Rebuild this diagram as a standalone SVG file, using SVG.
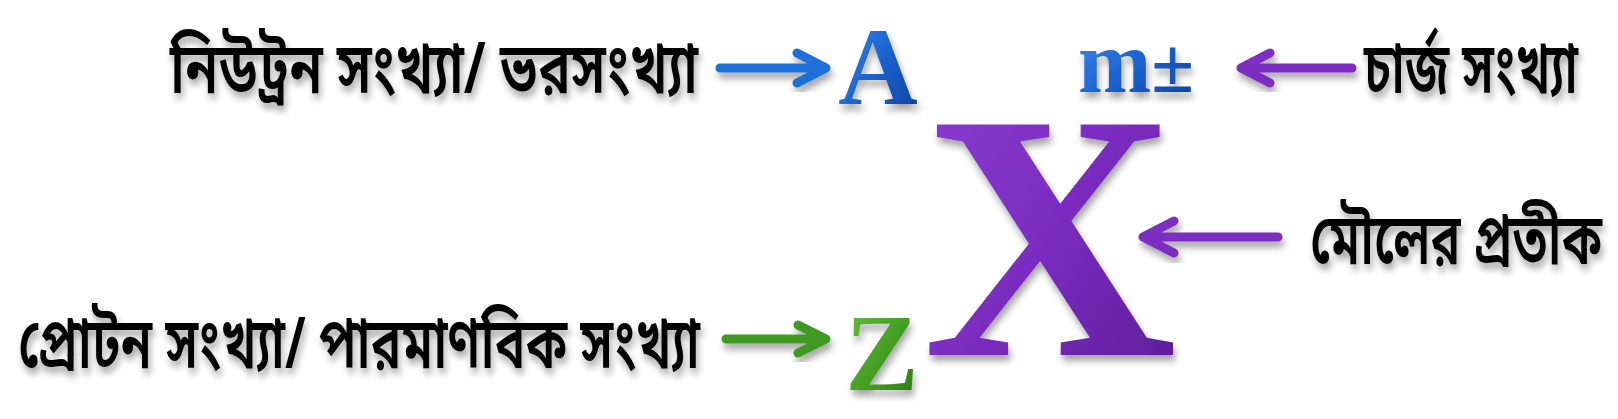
<svg xmlns="http://www.w3.org/2000/svg" width="1618" height="419" viewBox="0 0 1618 419">
<defs>
<filter id="sh" x="-20%" y="-20%" width="140%" height="150%">
<feDropShadow dx="2" dy="6" stdDeviation="3.5" flood-color="#000" flood-opacity="0.35"/>
</filter>
<linearGradient id="gBlue" x1="0" y1="0" x2="1" y2="1">
<stop offset="0" stop-color="#3f8ff0"/>
<stop offset="0.5" stop-color="#1b63cf"/>
<stop offset="1" stop-color="#0b3f9c"/>
</linearGradient>
<linearGradient id="gPurple" x1="0" y1="0" x2="1" y2="1">
<stop offset="0" stop-color="#8c3fd0"/>
<stop offset="0.5" stop-color="#7a2cc0"/>
<stop offset="1" stop-color="#5a1a92"/>
</linearGradient>
<linearGradient id="gGreen" x1="0" y1="0" x2="1" y2="1">
<stop offset="0" stop-color="#6cc23e"/>
<stop offset="0.5" stop-color="#45a024"/>
<stop offset="1" stop-color="#2a7414"/>
</linearGradient>
</defs>
<style>
.bn{font-family:"Noto Sans Bengali","Noto Serif Bengali","Lohit Bengali","FreeSerif","Noto Sans",sans-serif;font-size:71px;font-weight:600;fill:#000;filter:url(#sh)}
.sym{font-family:"Liberation Serif","Times New Roman",serif;font-weight:bold;filter:url(#sh)}
.arr{fill:none;stroke-width:9;stroke-linecap:round;stroke-linejoin:round;filter:url(#sh)}
.blue{stroke:#1f6fd8}
.purple{stroke:#7b2fc2}
.green{stroke:#3f9a22}
</style>
<rect width="1618" height="419" fill="#ffffff"/>
<g id="label-neutron">
<text class="bn" x="698" y="93" text-anchor="end" textLength="528" lengthAdjust="spacingAndGlyphs">নিউট্রন সংখ্যা/ ভরসংখ্যা</text>
</g>
<g id="label-charge">
<text class="bn" x="1578" y="93" text-anchor="end" textLength="214" lengthAdjust="spacingAndGlyphs">চার্জ সংখ্যা</text>
</g>
<g id="label-symbol">
<text class="bn" x="1602" y="264" text-anchor="end" textLength="292" lengthAdjust="spacingAndGlyphs">মৌলের প্রতীক</text>
</g>
<g id="label-proton">
<text class="bn" x="700" y="368" text-anchor="end" textLength="682" lengthAdjust="spacingAndGlyphs">প্রোটন সংখ্যা/ পারমাণবিক সংখ্যা</text>
</g>
<g id="node-A">
<text class="sym" x="878" y="104" font-size="110" text-anchor="middle" fill="url(#gBlue)">A</text>
</g>
<g id="node-m">
<text class="sym" x="1078" y="92" font-size="88" fill="url(#gBlue)">m<tspan font-size="78">±</tspan></text>
</g>
<g id="node-X">
<text class="sym" x="1050" y="355" font-size="352" text-anchor="middle" fill="url(#gPurple)" font-weight="normal">X</text>
</g>
<g id="node-Z">
<text class="sym" x="882" y="390" font-size="110" text-anchor="middle" fill="url(#gGreen)">Z</text>
</g>
<g id="connectors">
<path class="arr blue" d="M720,68 H826 M797,53 L826,68 L797,83"/>
<path class="arr purple" d="M1352,68 H1241 M1270,53 L1241,68 L1270,83"/>
<path class="arr purple" d="M1278,237 H1143 M1174,221 L1143,237 L1174,253"/>
<path class="arr green" d="M726,339 H826 M798,325 L826,339 L798,353"/>
</g>
</svg>
